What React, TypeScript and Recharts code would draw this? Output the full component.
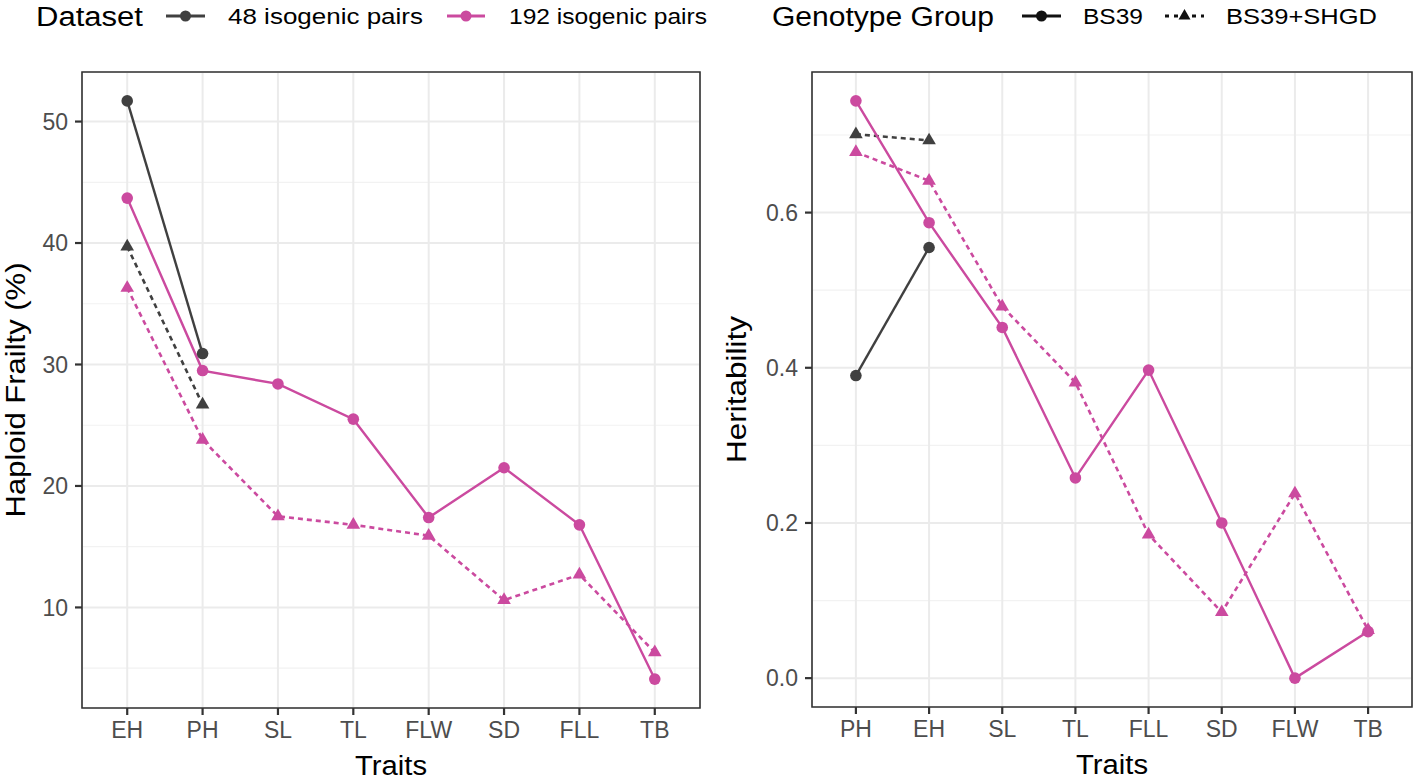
import React from 'react';
import { LineChart, Line, XAxis, YAxis, CartesianGrid, ReferenceArea } from 'recharts';

// ---------- data ----------
const leftTraits = ['EH', 'PH', 'SL', 'TL', 'FLW', 'SD', 'FLL', 'TB'];
const left48Base = [51.7, 30.9, null, null, null, null, null, null];
const left48Shgd = [39.7, 26.7, null, null, null, null, null, null];
const left192Base = [43.7, 29.5, 28.4, 25.5, 17.4, 21.5, 16.8, 4.1];
const left192Shgd = [36.3, 23.8, 17.5, 16.8, 15.9, 10.6, 12.7, 6.3];

const rightTraits = ['PH', 'EH', 'SL', 'TL', 'FLL', 'SD', 'FLW', 'TB'];
const right48Base = [0.39, 0.555, null, null, null, null, null, null];
const right48Shgd = [0.701, 0.693, null, null, null, null, null, null];
const right192Base = [0.744, 0.587, 0.452, 0.258, 0.397, 0.2, 0.0, 0.06];
const right192Shgd = [0.678, 0.641, 0.479, 0.381, 0.185, 0.085, 0.238, 0.062];

const leftMajorTicks = [10, 20, 30, 40, 50];
const leftMinorTicks = [5, 15, 25, 35, 45];
const rightMajorTicks = [0, 0.2, 0.4, 0.6];
const rightMinorTicks = [0.1, 0.3, 0.5, 0.7];

const datasetNames = ['48 isogenic pairs', '192 isogenic pairs'];
const genotypeNames = ['BS39', 'BS39+SHGD'];

// ---------- styles ----------
const FONT = '"Liberation Sans", Arial, Helvetica, sans-serif';
const DARK = '#404040';
const MAGENTA = '#CB4A9F';
const GRID = '#EBEBEB';
const BORDER = '#333333';
const TICKTXT = '#4D4D4D';

const buildRows = (traits: string[], a: any[], b: any[], c: any[], d: any[]) =>
  traits.map((t, i) => ({ idx: i, trait: t, b48: a[i], s48: b[i], b192: c[i], s192: d[i] }));

const leftData = buildRows(leftTraits, left48Base, left48Shgd, left192Base, left192Shgd);
const rightData = buildRows(rightTraits, right48Base, right48Shgd, right192Base, right192Shgd);

const expand = (vals: number[]) => {
  const mn = Math.min(...vals);
  const mx = Math.max(...vals);
  const pad = (mx - mn) * 0.05;
  return [mn - pad, mx + pad];
};
const numericVals = (arrs: any[][]) => arrs.flat().filter((v) => v !== null && v !== undefined) as number[];

const leftDomain = expand(numericVals([left48Base, left48Shgd, left192Base, left192Shgd]));
const rightDomain = expand(numericVals([right48Base, right48Shgd, right192Base, right192Shgd]));
const xDomain = [-0.6, 7.6];
const xTicks = leftTraits.map((_, i) => i);

const makeTriangle = (color: string) => (props: any) => {
  const { cx, cy, index, value } = props;
  if (cx == null || cy == null || isNaN(cx) || isNaN(cy) || value == null) {
    return <g key={`t-${index}`} />;
  }
  const h = 7.8;
  const w = 6.8;
  return (
    <path
      key={`t-${index}`}
      d={`M${cx},${cy - h} L${cx + w},${cy + h * 0.5} L${cx - w},${cy + h * 0.5} Z`}
      fill={color}
    />
  );
};

const XTitle = (props: any) => {
  const vb = props.viewBox || {};
  return (
    <text
      x={vb.x + vb.width / 2}
      y={vb.y + 67}
      textAnchor="middle"
      fontSize={27}
      fontFamily={FONT}
      fill="#000"
      textLength={72}
      lengthAdjust="spacingAndGlyphs"
    >
      Traits
    </text>
  );
};

const makeYTitle = (text: string, baseX: number, len: number) => (props: any) => {
  const vb = props.viewBox || {};
  const cy = vb.y + vb.height / 2;
  return (
    <text
      x={baseX}
      y={cy}
      transform={`rotate(-90 ${baseX} ${cy})`}
      textAnchor="middle"
      fontSize={27}
      fontFamily={FONT}
      fill="#000"
      textLength={len}
      lengthAdjust="spacingAndGlyphs"
    >
      {text}
    </text>
  );
};

interface PanelProps {
  data: any[];
  traits: string[];
  domain: number[];
  major: number[];
  minor: number[];
  width: number;
  yAxisWidth: number;
  marginRight: number;
  xAxisHeight: number;
  yTitle: string;
  yTitleX: number;
  yTitleLen: number;
  fmt: (v: number) => string;
}

const Panel = (p: PanelProps) => (
  <LineChart
    width={p.width}
    height={780}
    data={p.data}
    margin={{ top: 72, right: p.marginRight, bottom: 0, left: 0 }}
    style={{ fontFamily: FONT }}
  >
    <CartesianGrid
      horizontalValues={p.minor}
      vertical={false}
      stroke="#F2F2F2"
      strokeWidth={1.2}
      strokeDasharray=""
    />
    <CartesianGrid stroke={GRID} strokeWidth={2} strokeDasharray="" />
    <XAxis
      dataKey="idx"
      type="number"
      domain={xDomain}
      ticks={xTicks}
      interval={0}
      allowDataOverflow
      tickFormatter={(v: number) => p.traits[v]}
      height={p.xAxisHeight}
      axisLine={false}
      tickSize={7}
      tickMargin={7}
      tickLine={{ stroke: BORDER, strokeWidth: 2.2 }}
      tick={{ fill: TICKTXT, fontSize: 23, fontFamily: FONT }}
      label={{ content: XTitle }}
    />
    <YAxis
      type="number"
      domain={p.domain}
      ticks={p.major}
      allowDataOverflow
      width={p.yAxisWidth}
      axisLine={false}
      tickSize={7}
      tickMargin={7}
      tickLine={{ stroke: BORDER, strokeWidth: 2.2 }}
      tick={{ fill: TICKTXT, fontSize: 23, fontFamily: FONT }}
      tickFormatter={p.fmt}
      label={{ content: makeYTitle(p.yTitle, p.yTitleX, p.yTitleLen) }}
    />
    <Line
      dataKey="b48"
      stroke={DARK}
      strokeWidth={2.4}
      dot={{ r: 5.8, fill: DARK, stroke: DARK, strokeWidth: 0 }}
      activeDot={false}
      isAnimationActive={false}
    />
    <Line
      dataKey="s48"
      stroke={DARK}
      strokeWidth={2.6}
      strokeDasharray="5 4"
      dot={makeTriangle(DARK)}
      activeDot={false}
      isAnimationActive={false}
    />
    <Line
      dataKey="b192"
      stroke={MAGENTA}
      strokeWidth={2.4}
      dot={{ r: 5.8, fill: MAGENTA, stroke: MAGENTA, strokeWidth: 0 }}
      activeDot={false}
      isAnimationActive={false}
    />
    <Line
      dataKey="s192"
      stroke={MAGENTA}
      strokeWidth={2.6}
      strokeDasharray="5 4"
      dot={makeTriangle(MAGENTA)}
      activeDot={false}
      isAnimationActive={false}
    />
    <ReferenceArea
      x1={xDomain[0]}
      x2={xDomain[1]}
      y1={p.domain[0]}
      y2={p.domain[1]}
      fill="none"
      fillOpacity={0}
      stroke={BORDER}
      strokeWidth={1.6}
      ifOverflow="visible"
    />
  </LineChart>
);

const LegendBar = () => {
  const cy = 16;
  const tri = (x: number) => `M${x},${cy - 7} L${x + 6},${cy + 3.5} L${x - 6},${cy + 3.5} Z`;
  const common = { fontFamily: FONT, fill: '#000', lengthAdjust: 'spacingAndGlyphs' as const };
  return (
    <svg width={1417} height={46} style={{ position: 'absolute', left: 0, top: 0, pointerEvents: 'none' }}>
      <text x={36} y={25.5} fontSize={27} textLength={107} {...common}>Dataset</text>
      <line x1={166} x2={205} y1={cy} y2={cy} stroke={DARK} strokeWidth={3} />
      <circle cx={185.5} cy={cy} r={5.5} fill={DARK} />
      <text x={228} y={24} fontSize={22} textLength={195} {...common}>{datasetNames[0]}</text>
      <line x1={447} x2={485} y1={cy} y2={cy} stroke={MAGENTA} strokeWidth={3} />
      <circle cx={466} cy={cy} r={5.5} fill={MAGENTA} />
      <text x={509} y={24} fontSize={22} textLength={198} {...common}>{datasetNames[1]}</text>

      <text x={772} y={25.5} fontSize={27} textLength={222} {...common}>Genotype Group</text>
      <line x1={1022} x2={1061} y1={cy} y2={cy} stroke="#111" strokeWidth={3} />
      <circle cx={1041.5} cy={cy} r={5.5} fill="#111" />
      <text x={1083} y={24} fontSize={22} textLength={60} {...common}>{genotypeNames[0]}</text>
      <line x1={1165} x2={1204} y1={cy} y2={cy} stroke="#111" strokeWidth={3} strokeDasharray="4 5" />
      <path d={tri(1184.5)} fill="#111" />
      <text x={1226} y={24} fontSize={22} textLength={151} {...common}>{genotypeNames[1]}</text>
    </svg>
  );
};

export default function App() {
  return (
    <div
      style={{
        position: 'absolute',
        left: 0,
        top: 0,
        width: 1417,
        height: 780,
        background: '#fff',
        overflow: 'hidden',
        fontFamily: FONT,
      }}
    >
      <div style={{ position: 'absolute', left: 0, top: 0 }}>
        <Panel
          data={leftData}
          traits={leftTraits}
          domain={leftDomain}
          major={leftMajorTicks}
          minor={leftMinorTicks}
          width={710}
          yAxisWidth={82}
          marginRight={10}
          xAxisHeight={72}
          yTitle="Haploid Frailty (%)"
          yTitleX={25}
          yTitleLen={255}
          fmt={(v: number) => String(v)}
        />
      </div>
      <div style={{ position: 'absolute', left: 710, top: 0 }}>
        <Panel
          data={rightData}
          traits={rightTraits}
          domain={rightDomain}
          major={rightMajorTicks}
          minor={rightMinorTicks}
          width={707}
          yAxisWidth={102}
          marginRight={5}
          xAxisHeight={73}
          yTitle="Heritability"
          yTitleX={36}
          yTitleLen={147}
          fmt={(v: number) => v.toFixed(1)}
        />
      </div>
      <LegendBar />
    </div>
  );
}
